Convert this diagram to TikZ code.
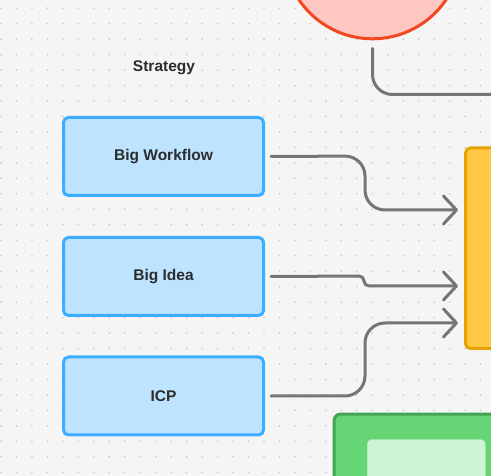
\documentclass[tikz,border=0pt]{standalone}
\usepackage{fontspec}
\setmainfont{Liberation Sans}
\usetikzlibrary{arrows.meta}
\definecolor{myBg}{RGB}{245,245,245}
\definecolor{myDot}{RGB}{200,200,200}
\definecolor{myGray}{RGB}{117,117,117}
\definecolor{myText}{RGB}{44,44,44}
\definecolor{myBlue}{RGB}{189,227,255}
\definecolor{myBlueLine}{RGB}{61,174,255}
\definecolor{myYellow}{RGB}{255,201,67}
\definecolor{myYellowLine}{RGB}{232,163,2}
\definecolor{myRed}{RGB}{255,199,194}
\definecolor{myRedLine}{RGB}{242,72,34}
\definecolor{myGreen}{RGB}{102,213,117}
\definecolor{myGreenLine}{RGB}{66,163,82}
\definecolor{myLightGreen}{RGB}{205,244,211}

\begin{document}
\begin{tikzpicture}[x=1pt,y=-1pt,
  box/.style={draw=myBlueLine,fill=myBlue,line width=3pt,rounded corners=5pt,
    minimum width=200pt,minimum height=78pt,inner sep=0pt,text=myText,
    font=\fontsize{15.5}{18}\selectfont\bfseries},
  conn/.style={draw=myGray,line width=3pt,line cap=round,line join=round},
  tip/.style={-{Straight Barb[length=13pt,width=28pt,line cap=round,line join=round]}}]
  \useasboundingbox (0,0) rectangle (491,476);
  \clip (0,0) rectangle (491,476);
  \fill[myBg] (0,0) rectangle (491,476);
  \foreach \i in {0,...,31}
    \foreach \j in {0,...,30}
      \fill[myDot] (1+15.47*\i,8.2+15.47*\j) circle (0.9);

  \node[circle,draw=myRedLine,fill=myRed,line width=3pt,minimum size=177.6pt,inner sep=0pt] (topcircle) at (372.5,-50) {};
  \node[draw=myYellowLine,fill=myYellow,line width=3pt,rounded corners=5pt,minimum width=94.5pt,minimum height=200.5pt,inner sep=0pt] (goals) at (512.75,248.25) {};
  \node[draw=myGreenLine,fill=myGreen,line width=3pt,rounded corners=6pt,minimum width=200pt,minimum height=120pt,inner sep=0pt] (greenbox) at (434.2,474.2) {};
  \draw[draw=myGreenLine!40!myLightGreen,fill=myLightGreen,rounded corners=4pt] (367.2,439.5) rectangle (485.5,490);

  \node[text=myText,font=\fontsize{15.5}{18}\selectfont\bfseries] (strategy) at (164,68) {Strategy};
  \node[box] (workflow) at (163.5,156.5) {Big Workflow};
  \node[box] (idea) at (163.5,276.5) {Big Idea};
  \node[box] (icp) at (163.5,396) {ICP};

  \coordinate (out1) at (500,94.5);
  \coordinate (in1) at (458,210);
  \coordinate (in2) at (458,286);
  \coordinate (in3) at (458,323);

  \draw[conn,rounded corners=20pt] ([yshift=-8pt]topcircle.south) |- (out1);
  \draw[conn,tip,rounded corners=20pt] ([xshift=6pt]workflow.east) -- (365,156) -- (365,210) -- (in1);
  \draw[conn,tip,rounded corners=5pt] ([xshift=6pt]idea.east) -- (364,276) -- (364,286) -- (in2);
  \draw[conn,tip,rounded corners=20pt] ([xshift=6pt]icp.east) -- (365,396) -- (365,323) -- (in3);
\end{tikzpicture}
\end{document}
